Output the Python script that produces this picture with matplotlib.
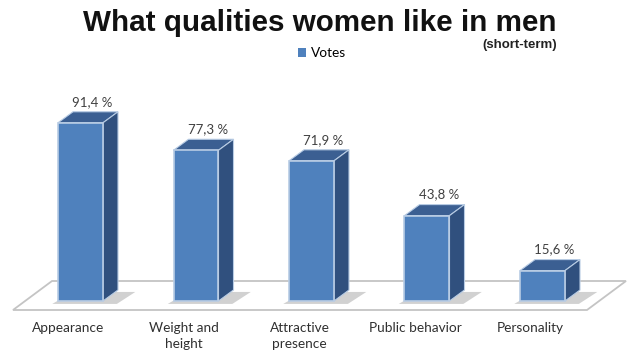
import matplotlib
matplotlib.use("Agg")
import matplotlib.pyplot as plt
from matplotlib.patches import Polygon, Patch

categories = ["Appearance", "Weight and\nheight", "Attractive\npresence", "Public behavior", "Personality"]
votes = [91.4, 77.3, 71.9, 43.8, 15.6]
value_labels = ["91,4 %", "77,3 %", "71,9 %", "43,8 %", "15,6 %"]

# pixel geometry of the reference -> data units
px_x = 115.5          # pixels per category step
px_y = 1.95           # pixels per percent
W, H = 640, 361
base_px = 301         # pixel row of the bar bottoms
x0_px = 80.5          # pixel column of first bar centre

fig = plt.figure(figsize=(6.4, 3.61), dpi=100)
ax = fig.add_axes([0, 0, 1, 1])
ax.set_xlim(-x0_px / px_x, (W - x0_px) / px_x)
ax.set_ylim(-(H - base_px) / px_y, base_px / px_y)
ax.axis("off")

bw = 45 / px_x        # bar width
ddx = 15 / px_x       # depth offset
ddy = 11 / px_y

front_c = "#4f81bd"
top_c = "#3b5f92"
side_c = "#30507e"
edge_c = "#b8cce4"

# floor
fx0, fx1 = -67.5 / px_x, 506.5 / px_x
fy = -9 / px_y
fdx, fdy = 39 / px_x, 29 / px_y
ax.add_patch(Polygon([(fx0, fy), (fx1, fy), (fx1 + fdx, fy + fdy), (fx0 + fdx, fy + fdy)],
                     closed=True, facecolor="white", edgecolor="#c4c4c4", lw=1.3, zorder=1))

for i, v in enumerate(votes):
    l, r = i - bw / 2, i + bw / 2
    # shadow on floor
    ax.add_patch(Polygon([(l - 0.05, -1.5), (r + 0.12, -1.5), (r + ddx + 0.15, ddy - 1),
                          (l + ddx, ddy - 1)], closed=True, facecolor="#9a9a9a",
                         edgecolor="none", alpha=0.45, zorder=2))
    ax.add_patch(Polygon([(l, 0), (r, 0), (r, v), (l, v)], closed=True,
                         facecolor=front_c, edgecolor=edge_c, lw=1.2, zorder=4))
    ax.add_patch(Polygon([(l, v), (r, v), (r + ddx, v + ddy), (l + ddx, v + ddy)], closed=True,
                         facecolor=top_c, edgecolor=edge_c, lw=0.8, zorder=3))
    ax.add_patch(Polygon([(r, 0), (r + ddx, ddy), (r + ddx, v + ddy), (r, v)], closed=True,
                         facecolor=side_c, edgecolor=edge_c, lw=0.8, zorder=3))
    ax.text(i + 12 / px_x, v + 21 / px_y, value_labels[i], ha="center", va="center",
            fontsize=9.5, color="#404040", family=["Lato", "DejaVu Sans"], zorder=5)
    ax.text(i - 12 / px_x, -21 / px_y, categories[i], ha="center", va="top",
            fontsize=9.8, color="#303030", family=["Lato", "DejaVu Sans"],
            linespacing=1.4, zorder=5)

fig.text(0.5, 1 - 23 / H, "What qualities women like in men", ha="center", va="center",
         fontsize=21.3, fontweight="bold", family=["Liberation Sans", "DejaVu Sans"], color="#111111")
fig.text(557 / W, 1 - 45 / H, "(short-term)", ha="right", va="center",
         fontsize=9.5, fontweight="bold", family=["Liberation Sans Narrow", "Liberation Sans"],
         color="#222222")

leg = fig.legend(handles=[Patch(facecolor=front_c, edgecolor="none", label="Votes")],
                 loc="center", bbox_to_anchor=(322 / W, 1 - 53 / H), frameon=False,
                 handlelength=0.6, handleheight=0.6, handletextpad=0.35,
                 prop={"family": ["Lato", "DejaVu Sans"], "size": 9.8})

fig.savefig("out.png", dpi=100, facecolor="white")
